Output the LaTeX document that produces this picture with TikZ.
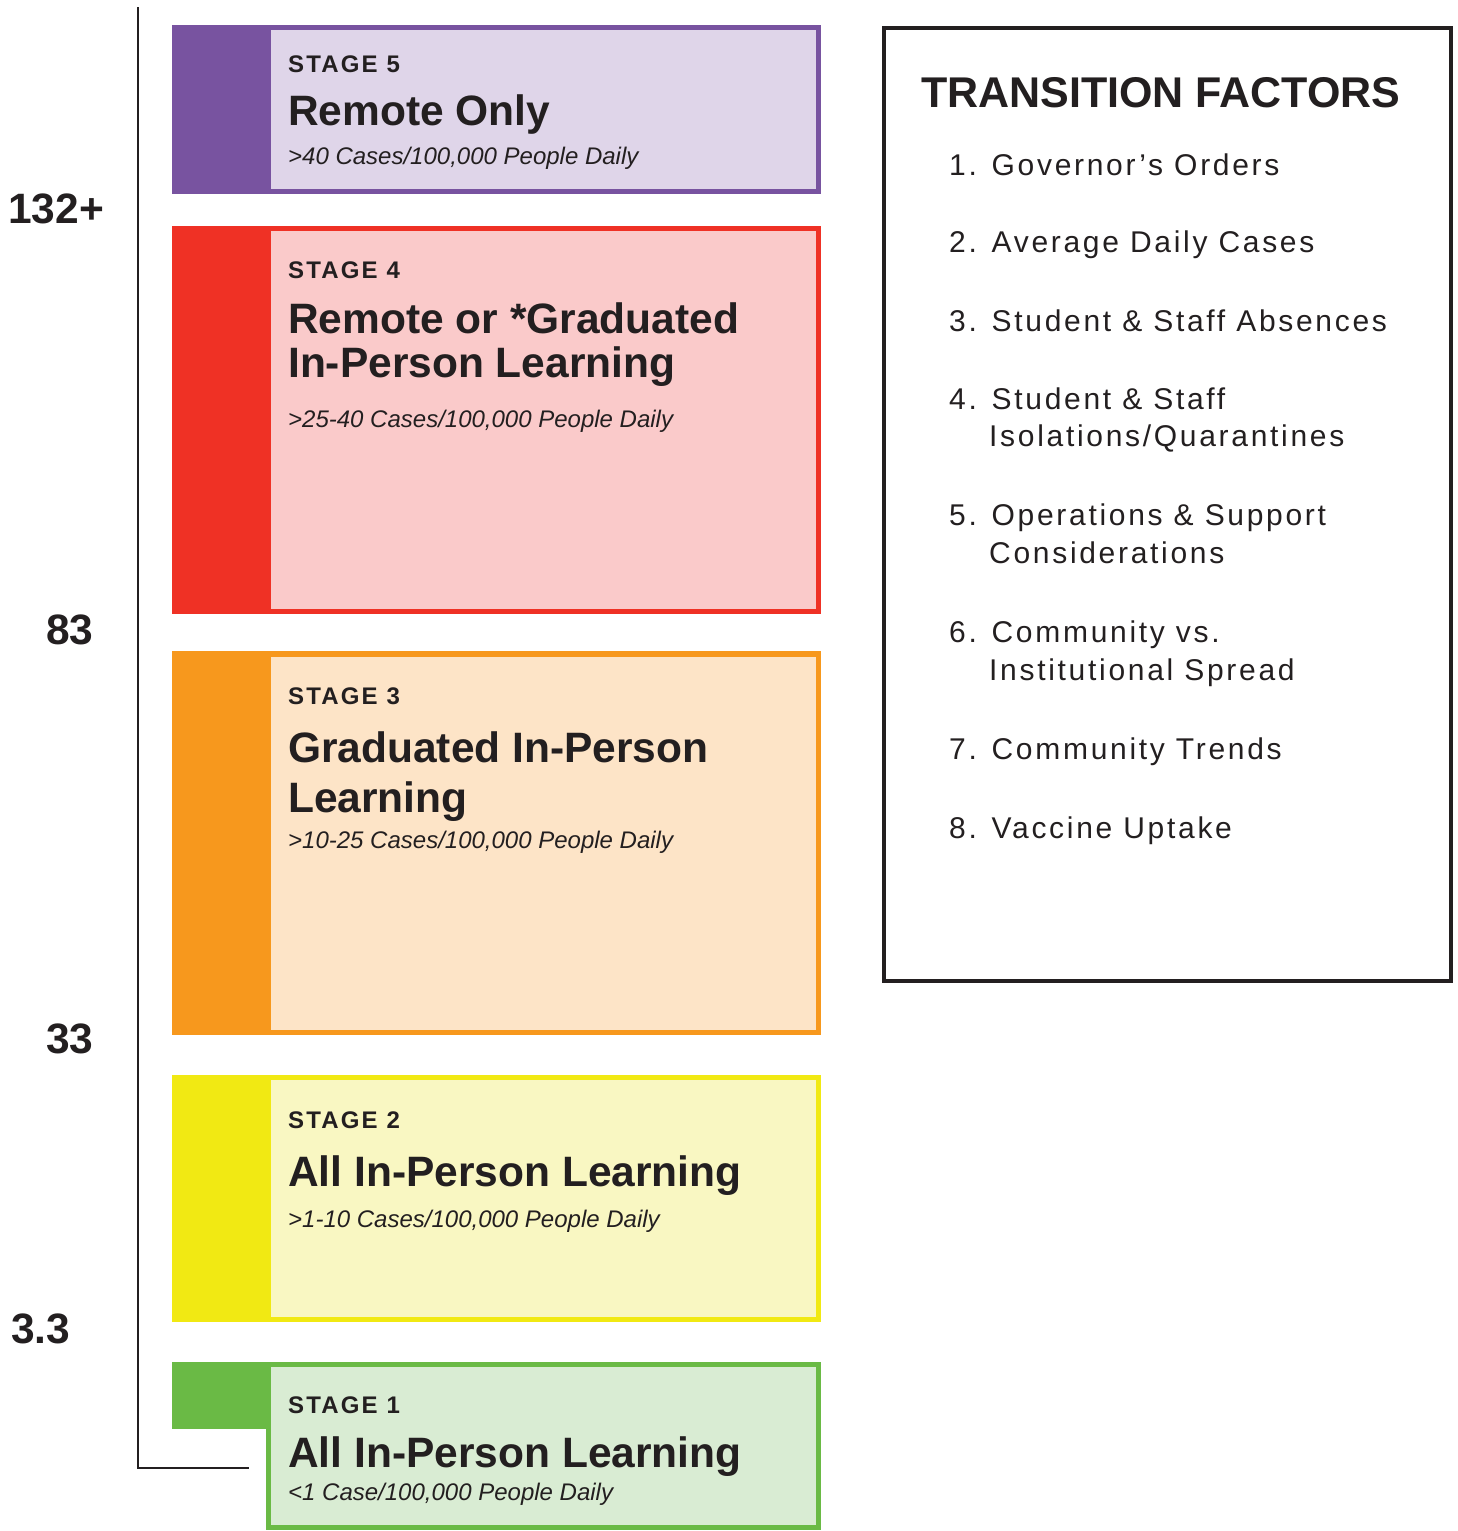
\documentclass[tikz,border=0pt]{standalone}
\usepackage{fontspec}
\setmainfont{Liberation Sans}
\newfontfamily\trackfont[LetterSpace=9]{Liberation Sans}
\newfontfamily\stagefont[LetterSpace=9]{Liberation Sans}
\definecolor{ink}{HTML}{231F20}
\definecolor{purpledark}{HTML}{7853A0}
\definecolor{purplelight}{HTML}{DFD5E9}
\definecolor{reddark}{HTML}{EF3125}
\definecolor{redlight}{HTML}{FACACA}
\definecolor{orangedark}{HTML}{F7981D}
\definecolor{orangelight}{HTML}{FDE4C7}
\definecolor{yellowdark}{HTML}{F1E913}
\definecolor{yellowlight}{HTML}{F9F7C2}
\definecolor{greendark}{HTML}{6ABA45}
\definecolor{greenlight}{HTML}{D9ECD3}

\begin{document}
\begin{tikzpicture}[x=1pt, y=-1pt,
    txt/.style={anchor=base west, inner sep=0pt, text=ink},
    stagelbl/.style={txt, font=\stagefont\bfseries\fontsize{24}{24}\selectfont},
    stagename/.style={txt, font=\bfseries\fontsize{42.5}{42.5}\selectfont},
    rate/.style={txt, font=\itshape\fontsize{24}{24}\selectfont},
    level/.style={txt, font=\bfseries\fontsize{42.5}{42.5}\selectfont},
    factor/.style={txt, font=\trackfont\fontsize{30}{30}\selectfont}]
    \useasboundingbox (0,0) rectangle (1457,1531);

    % Axis
    \coordinate (axtop) at (138,7);
    \coordinate (axcorner) at (138,1468);
    \coordinate (axend) at (249,1468);
    \draw[ink, line width=2.5pt] (axtop) -- (axcorner) -- (axend);

    % Levels
    \node[level] (l132) at (8,223) {132+};
    \node[level] (l83) at (46,644) {83};
    \node[level] (l33) at (46,1053) {33};
    \node[level] (l3) at (11,1343) {3.3};

    % Stage 5
    \fill[purpledark] (172,25) rectangle (821,194);
    \fill[purplelight] (271,30) rectangle (816,189);
    \node[stagelbl] (s5) at (288,72) {STAGE 5};
    \node[stagename] (s5name) at (288,125) {Remote Only};
    \node[rate] (s5rate) at (288,164) {>40 Cases/100,000 People Daily};

    % Stage 4
    \fill[reddark] (172,226) rectangle (821,614);
    \fill[redlight] (271,231) rectangle (816,609);
    \node[stagelbl] (s4) at (288,278) {STAGE 4};
    \node[stagename] (s4name) at (288,333) {Remote or *Graduated};
    \node[stagename] (s4name2) at (288,377) {In-Person Learning};
    \node[rate] (s4rate) at (288,427) {>25-40 Cases/100,000 People Daily};

    % Stage 3
    \fill[orangedark] (172,651) rectangle (821,1035);
    \fill[orangelight] (271,657) rectangle (816,1030);
    \node[stagelbl] (s3) at (288,704) {STAGE 3};
    \node[stagename] (s3name) at (288,762) {Graduated In-Person};
    \node[stagename] (s3name2) at (288,812) {Learning};
    \node[rate] (s3rate) at (288,848) {>10-25 Cases/100,000 People Daily};

    % Stage 2
    \fill[yellowdark] (172,1075) rectangle (821,1322);
    \fill[yellowlight] (271,1080) rectangle (816,1317);
    \node[stagelbl] (s2) at (288,1128) {STAGE 2};
    \node[stagename] (s2name) at (288,1186) {All In-Person Learning};
    \node[rate] (s2rate) at (288,1227) {>1-10 Cases/100,000 People Daily};

    % Stage 1
    \fill[greendark] (172,1362) rectangle (270,1429);
    \fill[greendark] (266,1362) rectangle (821,1530);
    \fill[greenlight] (271,1367) rectangle (816,1525);
    \node[stagelbl] (s1) at (288,1413) {STAGE 1};
    \node[stagename] (s1name) at (288,1467) {All In-Person Learning};
    \node[rate] (s1rate) at (288,1500) {<1 Case/100,000 People Daily};

    % Transition factors
    \draw[ink, line width=4.5pt] (884,28) rectangle (1451,981);
    \node[txt, font=\bfseries\fontsize{43}{43}\selectfont] (tf) at (921,107) {TRANSITION FACTORS};
    \node[factor] (f1) at (949,175) {1. Governor’s Orders};
    \node[factor] (f2) at (949,252) {2. Average Daily Cases};
    \node[factor] (f3) at (949,331) {3. Student \& Staff Absences};
    \node[factor] (f4) at (949,409) {4. Student \& Staff};
    \node[factor] (f4b) at (989,446) {Isolations/Quarantines};
    \node[factor] (f5) at (949,525) {5. Operations \& Support};
    \node[factor] (f5b) at (989,563) {Considerations};
    \node[factor] (f6) at (949,642) {6. Community vs.};
    \node[factor] (f6b) at (989,680) {Institutional Spread};
    \node[factor] (f7) at (949,759) {7. Community Trends};
    \node[factor] (f8) at (949,838) {8. Vaccine Uptake};
\end{tikzpicture}
\end{document}
